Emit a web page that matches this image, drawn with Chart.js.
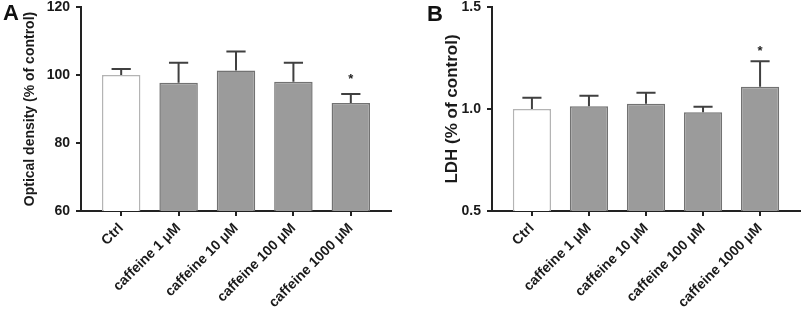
<!DOCTYPE html>
<html>
<head>
<meta charset="utf-8">
<script src="https://cdn.jsdelivr.net/npm/chart.js@4/dist/chart.umd.min.js"></script>
<style>
  html, body { margin: 0; padding: 0; background: #fff; }
  #wrap { position: relative; width: 803px; height: 318px; overflow: hidden; }
  .panel { position: absolute; top: 0; }
  .letter { position: absolute; font-family: "Liberation Sans", Arial, sans-serif; font-weight: bold; color: #111; font-size: 22px; line-height: 1; }
</style>
</head>
<body>
<div id="wrap">
  <div class="panel" style="left:0;width:400px;height:318px"><canvas id="cA" width="400" height="318"></canvas></div>
  <div class="panel" style="left:400px;width:403px;height:318px"><canvas id="cB" width="403" height="318"></canvas></div>
  <div class="letter" style="left:3px;top:2px">A</div>
  <div class="letter" style="left:427px;top:3px">B</div>
</div>
<script>
// ---- data ----
const categories = ["Ctrl", "caffeine 1 μM", "caffeine 10 μM", "caffeine 100 μM", "caffeine 1000 μM"];
const odMean = [100, 97.7, 101.3, 98.0, 91.8];
const odErr  = [1.8, 5.9, 5.6, 5.6, 2.6];
const odSig  = ["", "", "", "", "*"];
const odTicks = [60, 80, 100, 120];
const ldhMean = [1.0, 1.013, 1.026, 0.984, 1.109];
const ldhErr  = [0.055, 0.052, 0.054, 0.027, 0.125];
const ldhSig  = ["", "", "", "", "*"];
const ldhTicks = [0.5, 1.0, 1.5];

const FONT = '"Liberation Sans", Arial, sans-serif';
const INK = '#1a1a1a';

const errorBarPlugin = {
  id: 'errbars',
  afterDatasetsDraw(chart, args, opts) {
    const ctx = chart.ctx;
    const meta = chart.getDatasetMeta(0);
    const ys = chart.scales.y;
    ctx.save();
    meta.data.forEach((bar, i) => {
      const v = opts.means[i], e = opts.errs[i];
      const yTop = bar.y;
      const yErr = ys.getPixelForValue(v + e);
      const half = bar.width / 4;
      ctx.strokeStyle = '#404040';
      ctx.lineWidth = 2;
      ctx.beginPath();
      ctx.moveTo(bar.x, yTop);
      ctx.lineTo(bar.x, yErr);
      ctx.moveTo(bar.x - half, yErr);
      ctx.lineTo(bar.x + half, yErr);
      ctx.stroke();
      if (opts.sig[i]) {
        ctx.fillStyle = '#222';
        ctx.font = 'bold 13px ' + FONT;
        ctx.textAlign = 'center';
        ctx.textBaseline = 'alphabetic';
        ctx.fillText(opts.sig[i], bar.x, yErr - opts.starGap);
      }
    });
    ctx.restore();
  }
};

function makeChart(id, means, errs, sig, yTicks, yTitle, titleSize, titlePad, yWidth, padRight, fmt, starGap) {
  const pts = categories.map((c, i) => ({ x: i, y: means[i] }));
  return new Chart(document.getElementById(id), {
    type: 'bar',
    data: {
      datasets: [{
        data: pts,
        backgroundColor: ['#ffffff', '#9b9b9b', '#9b9b9b', '#9b9b9b', '#9b9b9b'],
        borderColor: ['#b4b4b4', '#727272', '#727272', '#727272', '#727272'],
        borderWidth: 1.5,
        borderSkipped: 'bottom',
        barPercentage: 0.67,
        categoryPercentage: 1.0
      }]
    },
    plugins: [errorBarPlugin],
    options: {
      responsive: false,
      animation: false,
      events: [],
      layout: { padding: { left: 0, right: padRight, top: 7, bottom: 0 } },
      plugins: {
        legend: { display: false },
        tooltip: { enabled: false },
        errbars: { means: means, errs: errs, sig: sig, starGap: starGap }
      },
      scales: {
        x: {
          type: 'linear',
          offset: false,
          min: -0.7,
          max: 4.7,
          afterBuildTicks: (s) => { s.ticks = categories.map((c, i) => ({ value: i })); },
          afterFit: (s) => { s.height = 107; s.paddingLeft = 0; s.paddingRight = 0; },
          ticks: {
            autoSkip: false,
            minRotation: 45,
            maxRotation: 45,
            padding: 4,
            color: INK,
            font: { family: FONT, size: 14, weight: 'bold' },
            callback: (v) => categories[v]
          },
          grid: { offset: false, drawOnChartArea: false, drawTicks: true, tickLength: 5, color: '#222', lineWidth: 2 },
          border: { display: true, color: '#222', width: 2 }
        },
        y: {
          min: yTicks[0],
          max: yTicks[yTicks.length - 1],
          afterBuildTicks: (s) => { s.ticks = yTicks.map(v => ({ value: v })); },
          afterFit: (s) => { s.width = yWidth; s.paddingTop = 0; s.paddingBottom = 0; },
          ticks: {
            padding: 6,
            color: INK,
            font: { family: FONT, size: 14, weight: 'bold', lineHeight: 1 },
            callback: fmt
          },
          grid: { drawOnChartArea: false, drawTicks: true, tickLength: 5, color: '#222', lineWidth: 2 },
          border: { display: true, color: '#222', width: 2 },
          title: {
            display: true,
            text: yTitle,
            color: INK,
            font: { family: FONT, size: titleSize, weight: 'bold', lineHeight: 1.2 },
            padding: { top: titlePad, bottom: 0 }
          }
        }
      }
    }
  });
}

makeChart('cA', odMean, odErr, odSig, odTicks, 'Optical density (% of control)', 14, 22, 81, 9, (v) => String(v), 11);
makeChart('cB', ldhMean, ldhErr, ldhSig, ldhTicks, 'LDH (% of control)', 17, 42, 92, 3, (v) => v.toFixed(1), 6);
</script>
</body>
</html>
